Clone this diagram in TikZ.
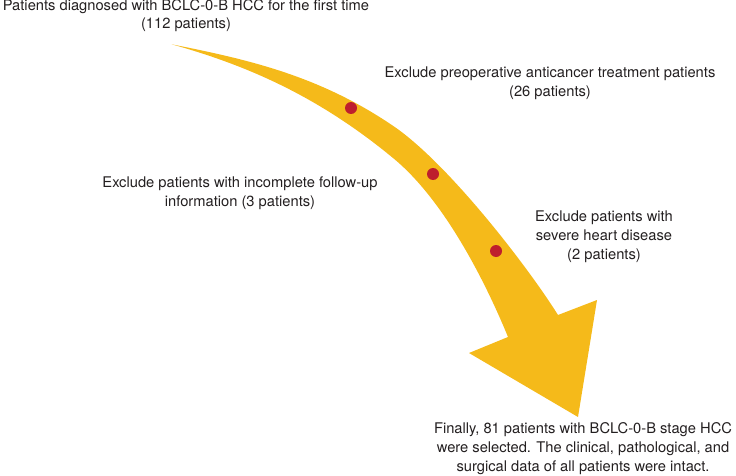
\documentclass[tikz,border=0pt]{standalone}
\usepackage{fontspec}
\setmainfont{TeX Gyre Heros}
\definecolor{arrowyellow}{RGB}{245,186,26}
\definecolor{dotred}{RGB}{190,30,45}
\definecolor{textgray}{RGB}{35,31,32}
\tikzset{
  note/.style={align=center, inner sep=0pt, text=textgray,
    font=\fontsize{14.7}{18.8}\selectfont},
  stepdot/.style={fill=dotred}
}

\begin{document}
\begin{tikzpicture}[x=1pt, y=-1pt]
  \useasboundingbox (0,0) rectangle (736,476);
  % big curved arrow
  \fill[arrowyellow] (171.7,44.3)
    .. controls (246.7,59.3) and (318.3,75) .. (393.3,126)
    .. controls (448.3,163.4) and (528,267) .. (558,315)
    -- (597,300) -- (578,417) -- (469,353) -- (508,337)
    .. controls (490,293) and (448,203) .. (393,158)
    .. controls (318,96) and (246.7,65.3) .. (171.7,44.3)
    -- cycle;
  % dots on the arrow
  \foreach \x/\y [count=\i] in {351/108, 433/174, 496/251} {
    \coordinate (dot\i) at (\x,\y);
    \fill[stepdot] (dot\i) circle (6);
  }
  % texts
  \node[note] (start) at (186,15.6) {Patients diagnosed with BCLC-0-B HCC for the first time\\(112 patients)};
  \node[note] (pretreat) at (550,83.3) {Exclude preoperative anticancer treatment patients\\(26 patients)};
  \node[note] (followup) at (240,193.6) {Exclude patients with incomplete follow-up\\information (3 patients)};
  \node[note] (heart) at (604,236.8) {Exclude patients with\\severe heart disease\\(2 patients)};
  \node[note] (final) at (583,448.4) {Finally, 81 patients with BCLC-0-B stage HCC\\were selected. The clinical, pathological, and\\surgical data of all patients were intact.};
\end{tikzpicture}
\end{document}
